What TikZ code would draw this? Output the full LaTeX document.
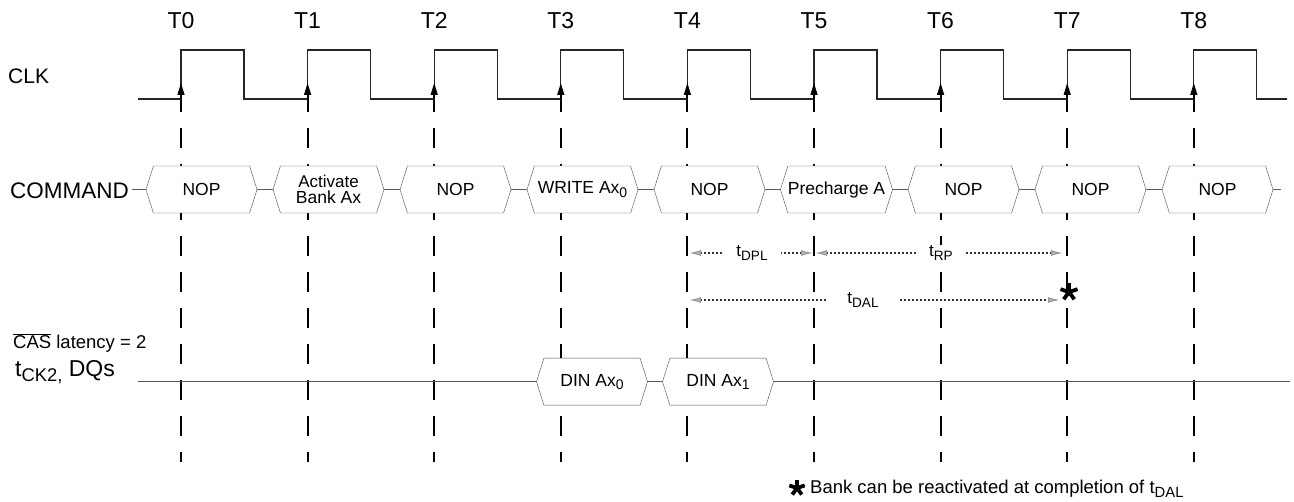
\documentclass[tikz,border=0pt]{standalone}
\usepackage{fontspec}
\setmainfont{Liberation Sans}
\usepackage{graphicx}
\usetikzlibrary{positioning, shapes.symbols, arrows.meta}

\newcommand{\fsz}[1]{\fontsize{#1}{#1}\selectfont}
\newcommand{\lowsub}[1]{\raisebox{-0.35ex}{\scalebox{0.8}{#1}}}

\begin{document}
\begin{tikzpicture}[x=1pt, y=-1pt,
	bus/.style={signal, signal to=west and east, signal pointer angle=145, draw=black!70, fill=white, minimum width=111pt, minimum height=47pt, inner sep=0pt, align=center, font=\fsz{17.5}},
	edgeline/.style={line width=2pt, dash pattern=on 20pt off 16pt},
	busline/.style={line width=1.2pt, black!65},
	timing/.style={line width=1.1pt, black!80, dash pattern=on 1.2pt off 2.8pt, {Latex[length=12pt,width=6pt,fill=gray!55,color=gray!80]}-{Latex[length=12pt,width=6pt,fill=gray!55,color=gray!80]}},
	astar/.pic={\foreach \a in {-90,-18,54,126,198} \draw[line width=3.8pt] (0,0) -- (\a:9);}]

	\useasboundingbox (0,0) rectangle (1294,502);

	% clock edges and labels
	\foreach \i in {0,...,8} {
		\pgfmathsetmacro{\tx}{181+126.6*\i}
		\node (t\i) at (\tx,28.5) [anchor=base, inner sep=0pt, font=\fsz{23}] {T\i};
		\coordinate (top\i) at (\tx,92);
		\coordinate (bot\i) at (\tx,462);
		\coordinate (e\i) at (\tx,99);
		\draw[edgeline] (top\i) -- (bot\i);
	}

	% signal names
	\node (clk) at (8,83.3) [anchor=base west, inner sep=0pt, font=\fsz{21}] {CLK};
	\node (cmd) at (10,198.3) [anchor=base west, inner sep=0pt, font=\fsz{22.5}] {COMMAND};
	\node (cas) at (13,349) [anchor=base west, inner sep=0pt, font=\fsz{18.5}] {$\overline{\hbox{CAS}}$ latency = 2};
	\node (dq) at (15,377) [anchor=base west, inner sep=0pt, font=\fsz{23}] {t\lowsub{CK2,} DQs};

	% clock
	\draw[line width=1.3pt, black!85] (138,99) foreach \i in {0,...,8} { -- (e\i) -- ++(0,-49) -- ++(63,0) -- ++(0,49) } -- (1287,99);
	\foreach \i in {0,...,8}
		\draw[line width=1.3pt, -{Triangle[length=12pt,width=7pt]}] (e\i) -- ++(0,-16);

	% command bus
	\coordinate (cmdend) at (1281,189.5);
	\draw[busline] (cmd.east |- cmdend) ++(3,0) -- (cmdend);
	\foreach \i/\txt in {0/NOP, 1/{\fsz{17}Activate\\[-2pt]Bank Ax}, 2/NOP, 3/WRITE Ax\lowsub{0}, 4/NOP, 5/Precharge A, 6/NOP, 7/NOP, 8/NOP}
		\node (c\i) at (201.5+127*\i,189.5) [bus] {\txt};

	% data bus
	\coordinate (dqstart) at (138,381.7);
	\coordinate (dqend) at (1290,381.7);
	\draw[busline] (dqstart) -- (dqend);
	\node (d0) at (592,381.7) [bus] {DIN Ax\lowsub{0}};
	\node (d1) at (718,381.7) [bus] {DIN Ax\lowsub{1}};

	% timing parameters
	\coordinate (dpl0) at (689,253);
	\coordinate (dpl1) at (813,253);
	\coordinate (rp0) at (815,253);
	\coordinate (rp1) at (1063,253);
	\coordinate (dal0) at (689,300);
	\coordinate (dal1) at (1060,300);
	\draw[timing] (dpl0) -- (dpl1);
	\draw[timing] (rp0) -- (rp1);
	\draw[timing] (dal0) -- (dal1);
	\node (tdpl) at (752,253) [fill=white, inner xsep=13pt, inner ysep=1pt, font=\fsz{17}] {t\lowsub{DPL}};
	\node (trp) at (941,253) [fill=white, inner xsep=11pt, inner ysep=1pt, font=\fsz{17}] {t\lowsub{RP}};
	\node (tdal) at (863,300) [fill=white, inner xsep=20pt, inner ysep=1pt, font=\fsz{17}] {t\lowsub{DAL}};
	\pic at (1069,292) {astar};

	% footnote
	\pic[scale=0.9] at (797,488) {astar};
	\node (note) at (810,494) [anchor=base west, inner sep=0pt, font=\fsz{18.5}] {Bank can be reactivated at completion of t\lowsub{DAL}};
\end{tikzpicture}
\end{document}
